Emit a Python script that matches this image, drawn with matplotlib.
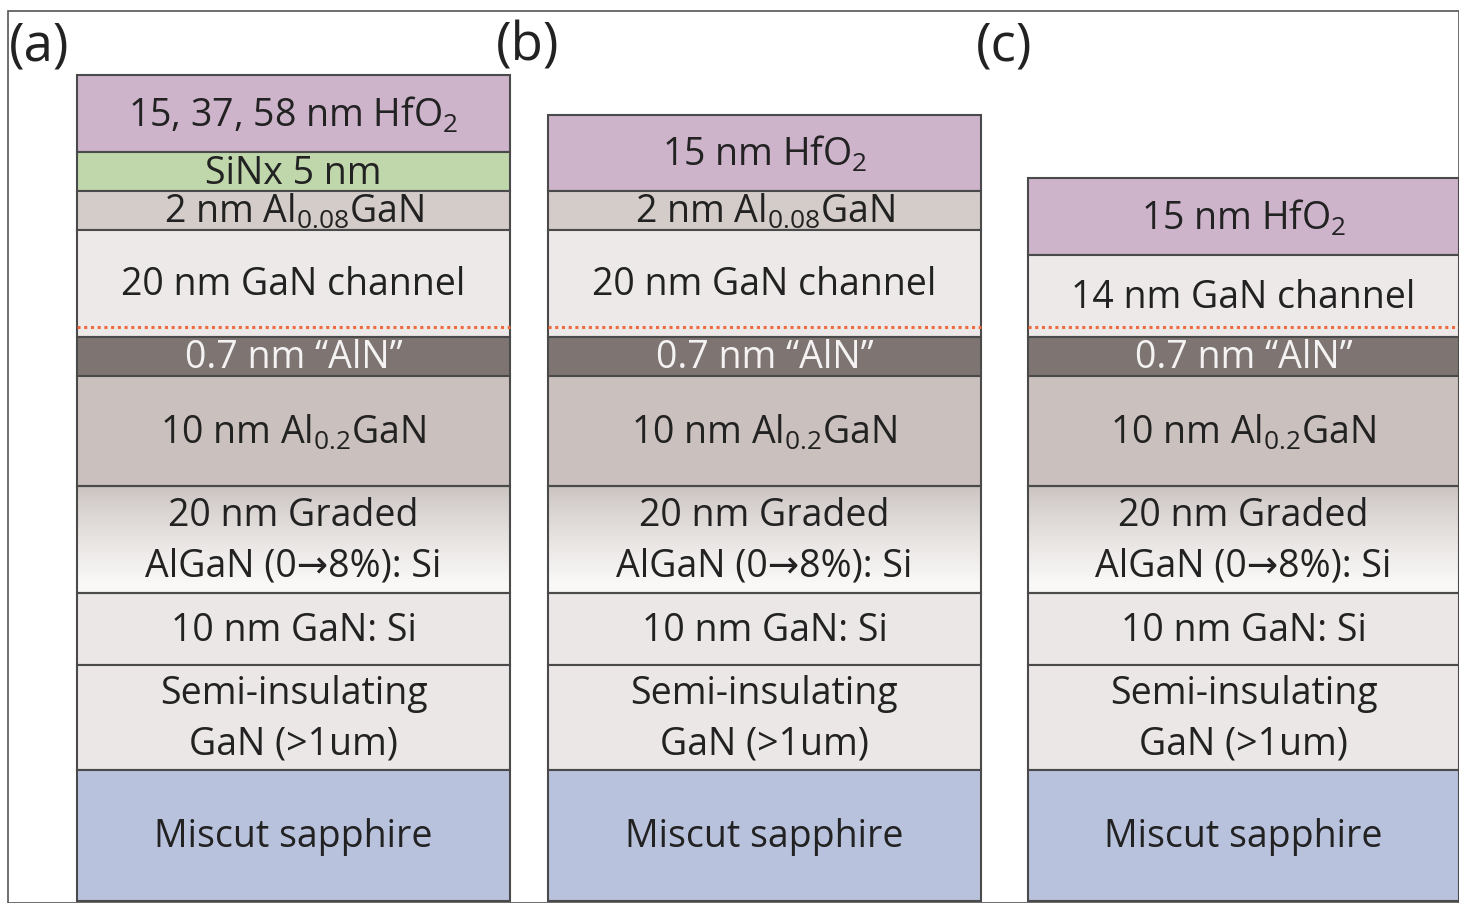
import matplotlib.pyplot as plt
import numpy as np
from matplotlib.patches import Rectangle

plt.rcParams["font.family"] = ["Open Sans", "DejaVu Sans"]
plt.rcParams["mathtext.fontset"] = "custom"
plt.rcParams["mathtext.rm"] = "Open Sans"
plt.rcParams["mathtext.default"] = "regular"

# layer stacks, listed top to bottom; heights in schematic units
labels_a = ["15, 37, 58 nm HfO$_2$", "SiNx 5 nm", "2 nm Al$_{0.08}$GaN", "20 nm GaN channel",
            "0.7 nm \u201cAlN\u201d", "10 nm Al$_{0.2}$GaN", "20 nm Graded\nAlGaN (0\u21928%): Si",
            "10 nm GaN: Si", "Semi-insulating\nGaN (>1um)", "Miscut sapphire"]
kinds_a = ["hfo2", "sinx", "algan08", "channel", "aln", "algan02", "graded", "gansi", "sigan", "sapphire"]
heights_a = [77, 39, 39, 107, 39, 110, 107, 72, 105, 131]

labels_b = ["15 nm HfO$_2$", "2 nm Al$_{0.08}$GaN", "20 nm GaN channel",
            "0.7 nm \u201cAlN\u201d", "10 nm Al$_{0.2}$GaN", "20 nm Graded\nAlGaN (0\u21928%): Si",
            "10 nm GaN: Si", "Semi-insulating\nGaN (>1um)", "Miscut sapphire"]
kinds_b = ["hfo2", "algan08", "channel", "aln", "algan02", "graded", "gansi", "sigan", "sapphire"]
heights_b = [76, 39, 107, 39, 110, 107, 72, 105, 131]

labels_c = ["15 nm HfO$_2$", "14 nm GaN channel",
            "0.7 nm \u201cAlN\u201d", "10 nm Al$_{0.2}$GaN", "20 nm Graded\nAlGaN (0\u21928%): Si",
            "10 nm GaN: Si", "Semi-insulating\nGaN (>1um)", "Miscut sapphire"]
kinds_c = ["hfo2", "channel", "aln", "algan02", "graded", "gansi", "sigan", "sapphire"]
heights_c = [77, 82, 39, 110, 107, 72, 105, 131]

panel_names = ["(a)", "(b)", "(c)"]

colors = {
    "hfo2": "#cdb4cb",
    "sinx": "#bfd7ab",
    "algan08": "#d4ccc9",
    "channel": "#ece9e8",
    "aln": "#7e7572",
    "algan02": "#cac0bd",
    "gansi": "#ebe7e6",
    "sigan": "#ebe7e6",
    "sapphire": "#b9c2dd",
}

W, H = 1459, 904
fig = plt.figure(figsize=(W / 100, H / 100), dpi=100)
ax = fig.add_axes([0, 0, 1, 1])
ax.set_xlim(0, W)
ax.set_ylim(H, 0)
ax.axis("off")

# outer frame
ax.add_patch(Rectangle((8, 12), W - 8, H - 12, fill=False, ec="#555555", lw=1.2))

col_left = [77, 548, 1028]
col_width = [433, 433, 431]
base = 902
fs = 27

grad_top = np.array([0.79, 0.76, 0.75])
grad_bot = np.array([0.98, 0.975, 0.97])

stacks = [(labels_a, kinds_a, heights_a), (labels_b, kinds_b, heights_b), (labels_c, kinds_c, heights_c)]
for (labels, kinds, heights), x0, w, name in zip(stacks, col_left, col_width, panel_names):
    top = base - sum(heights)
    y = top
    for lab, kind, h in zip(labels, kinds, heights):
        if kind == "graded":
            t = np.clip(np.linspace(0, 1.1, 200), 0, 1) ** 0.8
            img = grad_top[None, :] + (grad_bot - grad_top)[None, :] * t[:, None]
            img = np.repeat(img[:, None, :], 2, axis=1)
            ax.imshow(img, extent=(x0, x0 + w, y + h, y), aspect="auto", zorder=1, interpolation="bilinear")
            ax.add_patch(Rectangle((x0, y), w, h, fill=False, ec="#4a4a4a", lw=1.5, zorder=3))
        else:
            ax.add_patch(Rectangle((x0, y), w, h, fc=colors[kind], ec="#4a4a4a", lw=1.5, zorder=2))
        tc = "#f4f2f2" if kind == "aln" else "#222222"
        ax.text(x0 + w / 2, y + h / 2 + 1, lab, ha="center", va="center", fontsize=fs, color=tc,
                linespacing=1.42, zorder=4)
        if kind == "channel":
            ax.plot([x0, x0 + w], [y + h - 10, y + h - 10], ls=(0, (1, 1.2)), color="#ee6a3f", lw=2.2, zorder=4)
        y += h
    ax.text(x0 - 68 if name == "(a)" else x0 - 52, 47, name, ha="left", va="center", fontsize=38, color="#222222")

fig.savefig("out.png", dpi=100)
